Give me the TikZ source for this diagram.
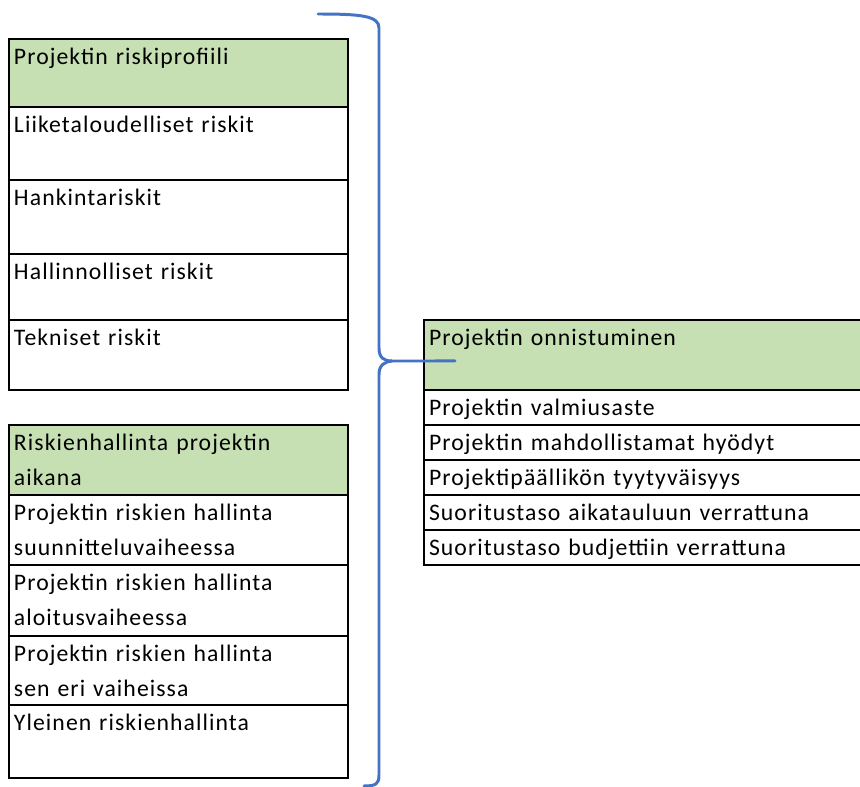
\documentclass[tikz,border=0pt]{standalone}
\usepackage{fontspec}
\setmainfont{Carlito}[LetterSpace=4.5]
\usetikzlibrary{positioning,calc}
\definecolor{headgreen}{RGB}{198,224,180}
\definecolor{braceblue}{RGB}{68,114,196}
\newcommand{\cellfont}{\fontsize{13.5pt}{0.7cm}\selectfont}
\tikzset{
  cell/.style={draw, line width=0.95pt, outer sep=0pt, inner xsep=0.1cm, inner ysep=0pt,
    align=left, text height=0.52cm, text depth=#1, font=\cellfont},
  leftcell/.style={cell=#1, text width=6.58cm},
  rightcell/.style={cell=#1, text width=8.6cm},
  head/.style={fill=headgreen},
  brace/.style={draw=braceblue, line width=1.7pt, line cap=round},
}
\begin{document}
\begin{tikzpicture}[x=0.02cm,y=-0.02cm]
  \clip (0,0) rectangle (860,787);
  % riskiprofiili
  \node[leftcell=0.84cm,head,anchor=north west] (rp0) at (9,39) {Projektin riskiprofiili};
  \node[leftcell=0.94cm,below=0pt of rp0] (rp1) {Liiketaloudelliset riskit};
  \node[leftcell=0.96cm,below=0pt of rp1] (rp2) {Hankintariskit};
  \node[leftcell=0.80cm,below=0pt of rp2] (rp3) {Hallinnolliset riskit};
  \node[leftcell=0.88cm,below=0pt of rp3] (rp4) {Tekniset riskit};
  % riskienhallinta
  \node[leftcell=0.88cm,head,anchor=north west] (rh0) at (9,425) {Riskienhallinta projektin\\aikana};
  \node[leftcell=0.88cm,below=0pt of rh0] (rh1) {Projektin riskien hallinta\\suunnitteluvaiheessa};
  \node[leftcell=0.90cm,below=0pt of rh1] (rh2) {Projektin riskien hallinta\\aloitusvaiheessa};
  \node[leftcell=0.86cm,below=0pt of rh2] (rh3) {Projektin riskien hallinta\\sen eri vaiheissa};
  \node[leftcell=0.94cm,below=0pt of rh3] (rh4) {Yleinen riskienhallinta};
  % onnistuminen
  \node[rightcell=0.88cm,head,anchor=north west] (on0) at (424,320) {Projektin onnistuminen};
  \node[rightcell=0.18cm,below=0pt of on0] (on1) {Projektin valmiusaste};
  \node[rightcell=0.18cm,below=0pt of on1] (on2) {Projektin mahdollistamat hyödyt};
  \node[rightcell=0.18cm,below=0pt of on2] (on3) {Projektipäällikön tyytyväisyys};
  \node[rightcell=0.18cm,below=0pt of on3] (on4) {Suoritustaso aikatauluun verrattuna};
  \node[rightcell=0.18cm,below=0pt of on4] (on5) {Suoritustaso budjettiin verrattuna};
  % brace
  \coordinate (tip) at (392,361);
  \coordinate (reach) at ($(on0.west)+(31,6)$);
  \draw[brace] (318,14) .. controls (362,14) and (379,16) .. (379,28) -- (379,348)
    .. controls (379,358) and (384,361) .. (tip) -- (reach);
  \draw[brace] (tip) .. controls (384,362) and (379,365) .. (379,375) -- (379,775)
    .. controls (379,784) and (376,786) .. (364,786);
\end{tikzpicture}
\end{document}
